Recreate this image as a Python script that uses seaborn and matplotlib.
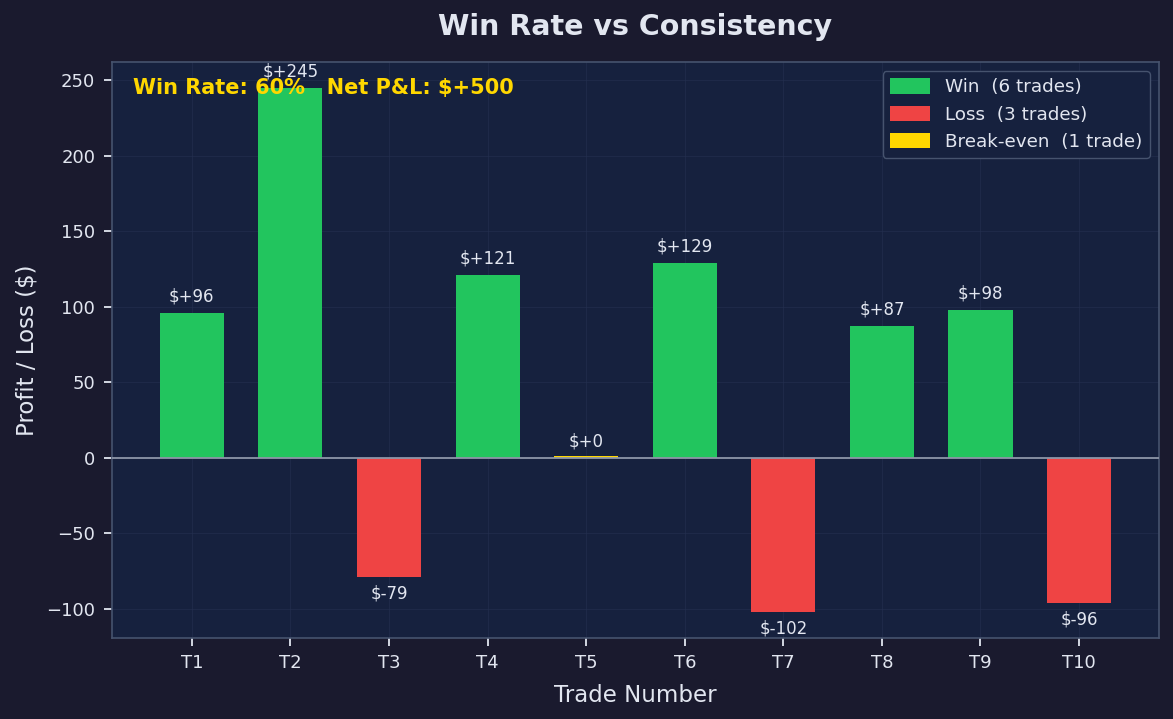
import numpy as np
import pandas as pd
import matplotlib
matplotlib.use("Agg")
import matplotlib.pyplot as plt
import seaborn as sns

# Data
trades = ["T1", "T2", "T3", "T4", "T5", "T6", "T7", "T8", "T9", "T10"]
pnl = [96, 245, -79, 121, 0, 129, -102, 87, 98, -96]
outcome = ["Win", "Win", "Loss", "Win", "Break-even", "Win", "Loss", "Win", "Win", "Loss"]
legend_labels = ["Win  (6 trades)", "Loss  (3 trades)", "Break-even  (1 trade)"]
summary_text = "Win Rate: 60%   Net P&L: $+500"

FIG_BG = "#1a1a2e"
AX_BG = "#16213e"
TXT = "#e2e6f0"
palette = {"Win": "#22c55e", "Loss": "#ef4444", "Break-even": "#ffd700"}

df = pd.DataFrame({"Trade": trades, "PnL": pnl, "Outcome": outcome})

sns.set_style("dark")
plt.rcParams["font.family"] = ["DejaVu Sans"]

fig, ax = plt.subplots(figsize=(11.73, 7.19), dpi=100)
fig.patch.set_facecolor(FIG_BG)
ax.set_facecolor(AX_BG)
fig.subplots_adjust(left=0.0955, right=0.988, top=0.914, bottom=0.113)

sns.barplot(data=df, x="Trade", y="PnL", hue="Outcome", palette=palette,
            hue_order=["Win", "Loss", "Break-even"], dodge=False, width=0.65,
            ax=ax, saturation=1, linewidth=0, edgecolor="none")

# break-even bar: give it a visible sliver
for p in ax.patches:
    if p.get_height() == 0 and p.get_width() > 0:
        p.set_height(0.8)
        p.set_y(0)

ax.axhline(0, color="#8d96a8", lw=1.3, zorder=3)

for i, v in enumerate(pnl):
    if v >= 0:
        ax.text(i, v + 5, f"$+{v}", ha="center", va="bottom", color=TXT, fontsize=12)
    else:
        ax.text(i, v - 5, f"$-{abs(v)}", ha="center", va="top", color=TXT, fontsize=12)

ax.text(0.02, 0.955, summary_text, transform=ax.transAxes, color="#ffd700",
        fontsize=15, fontweight="bold", va="center", ha="left")

ax.set_xlim(-0.81, 9.81)
ax.set_ylim(-119.35, 262.35)
ax.set_title("Win Rate vs Consistency", color=TXT, fontsize=20.5, fontweight="bold", pad=19)
ax.set_xlabel("Trade Number", color=TXT, fontsize=16.5, labelpad=8)
ax.set_ylabel("Profit / Loss ($)", color=TXT, fontsize=16.5, labelpad=6)
ax.tick_params(colors=TXT, labelsize=13, length=6, width=1.3, pad=6, left=True, bottom=True)
ax.grid(True, color="#243050", lw=0.8, alpha=0.6)
for s in ax.spines.values():
    s.set_visible(True)
    s.set_color("#46536e")
    s.set_linewidth(1.2)

handles, _ = ax.get_legend_handles_labels()
leg = ax.legend(handles, legend_labels, loc="upper right", fontsize=13.2,
                facecolor=AX_BG, edgecolor="#46536e", labelcolor=TXT, framealpha=1,
                handlelength=2.2, handleheight=0.9)

fig.savefig("out.png", dpi=100, facecolor=FIG_BG)
